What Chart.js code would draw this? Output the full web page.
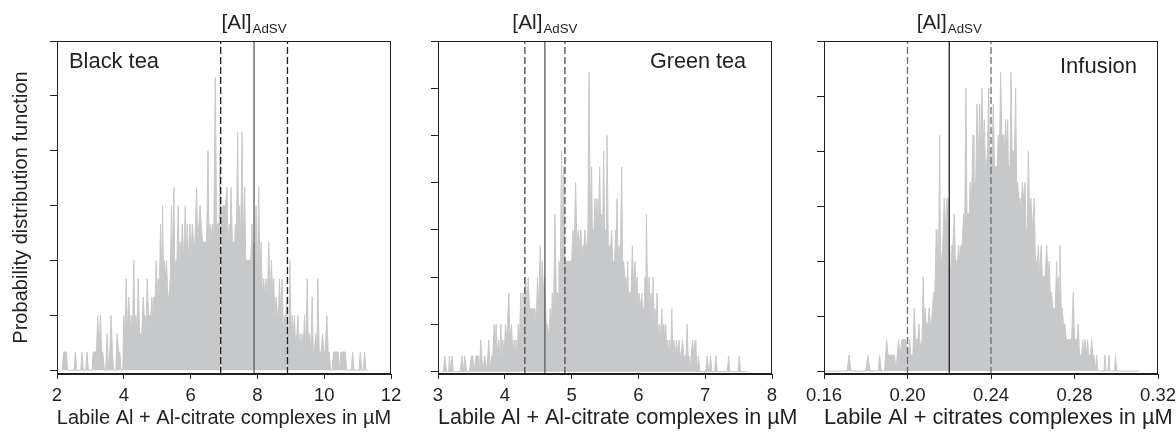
<!DOCTYPE html>
<html><head><meta charset="utf-8">
<script src="https://cdn.jsdelivr.net/npm/chart.js@4/dist/chart.umd.min.js"></script>
<style>
html,body{margin:0;padding:0;background:#fff;}
#wrap{position:relative;width:1176px;height:434px;overflow:hidden;background:#fff;}
canvas{position:absolute;left:0;top:0;}
</style></head><body>
<div id="wrap">
<canvas id="c1" width="1176" height="434"></canvas>
<canvas id="c2" width="1176" height="434"></canvas>
<canvas id="c3" width="1176" height="434"></canvas>
</div>
<script>
// ---------- DATA (x = concentration in µM, y = frequency) ----------
const blackTeaPDF = [
[2.15,0],[2.2,1],[2.28,1],[2.32,0],[2.51,0],[2.55,1],[2.59,0],[2.71,0],[2.75,1],[2.79,0],[2.86,0],[2.9,1],[2.94,0],[3.05,0],[3.08,1],[3.18,1],[3.22,3],[3.26,1],[3.3,3],[3.34,1],[3.37,1],[3.42,0],[3.46,0],[3.5,2],[3.54,0],[3.58,1],[3.62,3],[3.66,1],[3.7,0],[3.76,0],[3.8,2],[3.84,1],[3.88,1],[3.92,0],[3.97,0],
[4.0,3],[4.04,2],[4.07,5],[4.11,2],[4.15,4],[4.19,2],[4.22,3],[4.26,2],[4.3,6],[4.33,2],[4.36,3],[4.4,2],[4.43,5],[4.47,2],[4.5,2],[4.54,2],[4.58,4],[4.61,3],[4.64,3],[4.67,2],[4.7,5],[4.74,3],[4.78,3],[4.81,3],[4.84,4],[4.87,3],[4.9,4],[4.94,4],[4.97,6],
[5.0,4],[5.03,5],[5.06,4],[5.1,8],[5.13,5],[5.16,9],[5.19,5],[5.22,6],[5.25,5],[5.28,6],[5.32,4],[5.35,4],[5.39,5],[5.43,9],[5.46,6],[5.5,10],[5.53,5],[5.56,6],[5.59,6],[5.63,9],[5.66,6],[5.68,7],[5.72,6],[5.75,8],[5.79,6],[5.84,9],[5.87,6],[5.9,8],[5.94,6],[5.98,8],
[6.01,6],[6.05,8],[6.09,7],[6.13,7],[6.18,10],[6.21,7],[6.25,8],[6.28,9],[6.32,8],[6.36,7],[6.4,7],[6.44,7],[6.48,7],[6.52,12],[6.55,7],[6.58,8],[6.61,7],[6.65,8],[6.69,7],[6.74,16],[6.78,8],[6.82,8],[6.85,8],[6.88,12],[6.92,8],[6.96,9],
[7.0,9],[7.04,9],[7.09,10],[7.12,7],[7.16,8],[7.19,7],[7.21,10],[7.25,7],[7.29,7],[7.32,7],[7.34,8],[7.37,7],[7.41,13],[7.44,7],[7.47,9],[7.5,7],[7.54,13],[7.58,7],[7.62,10],[7.65,6],[7.69,6],[7.72,6],[7.76,6],[7.8,6],[7.84,8],[7.87,5],[7.9,7],[7.93,6],[7.96,9],
[8.0,5],[8.04,10],[8.08,5],[8.11,7],[8.15,4],[8.19,5],[8.22,4],[8.26,5],[8.3,4],[8.34,7],[8.38,4],[8.42,6],[8.46,4],[8.49,5],[8.52,3],[8.56,4],[8.6,3],[8.63,3],[8.66,5],[8.7,3],[8.74,5],[8.78,2],[8.82,3],[8.84,2],[8.87,4],[8.91,2],[8.94,2],[8.97,6],
[9.01,2],[9.04,3],[9.07,2],[9.11,3],[9.15,1],[9.18,2],[9.22,3],[9.25,1],[9.28,2],[9.31,1],[9.34,2],[9.37,1],[9.41,3],[9.45,1],[9.49,5],[9.53,1],[9.56,2],[9.6,1],[9.64,4],[9.67,1],[9.7,1],[9.72,1],[9.75,2],[9.78,1],[9.81,5],[9.85,1],[9.88,1],[9.91,1],[9.95,2],[9.99,1],
[10.03,1],[10.05,1],[10.08,3],[10.12,1],[10.15,1],[10.19,0],[10.24,0],[10.28,1],[10.42,1],[10.46,0],[10.5,1],[10.63,1],[10.67,0],[10.81,0],[10.85,1],[10.89,0],[11.04,0],[11.08,1],[11.12,0],[11.17,0],[11.21,1],[11.25,0],[11.3,0]
];
const greenTeaPDF = [
[3.05,0],[3.08,0],[3.1,1],[3.13,0],[3.16,0],[3.17,1],[3.19,0],[3.21,1],[3.23,0],[3.25,0],[3.33,0],[3.36,1],[3.38,0],[3.4,1],[3.43,0],[3.47,0],[3.5,1],[3.52,1],[3.54,0],[3.57,1],[3.6,1],[3.62,0],[3.64,2],[3.67,0],[3.7,1],[3.73,0],[3.76,2],[3.78,0],[3.8,1],[3.82,1],[3.84,3],[3.86,2],[3.87,3],[3.89,1],[3.91,2],[3.93,1],[3.94,3],[3.96,1],[3.97,2],[3.99,1],
[4.01,3],[4.03,2],[4.06,5],[4.08,2],[4.1,3],[4.12,1],[4.14,2],[4.16,1],[4.17,2],[4.19,1],[4.2,3],[4.22,2],[4.24,5],[4.26,3],[4.27,5],[4.29,3],[4.31,6],[4.33,4],[4.35,6],[4.37,4],[4.4,4],[4.42,4],[4.45,4],[4.47,3],[4.49,6],[4.51,4],[4.53,8],[4.545,5],[4.56,7],[4.58,5],[4.6,6],[4.62,3],[4.64,3],[4.66,2],[4.68,4],[4.7,3],[4.71,5],[4.73,4],[4.75,10],[4.77,5],[4.78,5],[4.8,5],[4.81,7],[4.83,6],[4.85,14],[4.865,8],[4.88,13],[4.9,7],[4.91,7],[4.93,7],[4.95,7],[4.97,7],[4.99,7],
[5.0,7],[5.02,9],[5.04,8],[5.06,12],[5.08,8],[5.1,9],[5.12,8],[5.14,9],[5.155,7],[5.17,8],[5.185,8],[5.2,9],[5.215,8],[5.23,8],[5.245,9],[5.26,19],[5.28,10],[5.3,13],[5.31,9],[5.32,9],[5.335,9],[5.35,11],[5.365,9],[5.38,11],[5.4,9],[5.42,13],[5.435,9],[5.45,10],[5.465,9],[5.48,14],[5.495,9],[5.51,9],[5.52,8],[5.53,15],[5.55,8],[5.57,8],[5.585,8],[5.6,9],[5.615,7],[5.63,7],[5.645,7],[5.66,9],[5.67,8],[5.68,11],[5.695,7],[5.71,8],[5.73,7],[5.75,13],[5.765,7],[5.78,7],[5.795,6],[5.81,6],[5.825,5],[5.84,7],[5.85,5],[5.86,5],[5.875,5],[5.89,5],[5.9,5],[5.91,8],[5.93,5],[5.95,7],[5.965,5],[5.98,6],[5.995,4],
[6.01,5],[6.03,4],[6.05,5],[6.06,4],[6.07,4],[6.085,4],[6.1,6],[6.11,4],[6.12,10],[6.14,4],[6.16,6],[6.175,4],[6.19,5],[6.205,3],[6.22,6],[6.235,3],[6.25,4],[6.265,3],[6.28,5],[6.295,2],[6.31,3],[6.33,2],[6.35,4],[6.365,2],[6.38,3],[6.395,2],[6.41,3],[6.425,1],[6.44,2],[6.455,1],[6.47,2],[6.485,1],[6.5,4],[6.515,1],[6.53,2],[6.55,1],[6.57,2],[6.59,1],[6.61,2],[6.625,1],[6.64,1],[6.65,1],[6.66,2],[6.68,1],[6.7,1],[6.715,1],[6.73,3],[6.745,1],[6.76,1],[6.775,0],[6.79,1],[6.8,1],[6.81,2],[6.83,1],[6.85,2],[6.86,1],[6.87,1],[6.885,0],[6.9,1],[6.92,0],
[7.01,0],[7.03,1],[7.05,0],[7.06,0],[7.08,1],[7.1,0],[7.14,0],[7.16,1],[7.18,0],[7.33,0],[7.35,1],[7.37,0],[7.49,0],[7.51,1],[7.53,0],[7.62,0]
];
const infusionPDF = [
[0.16,0],[0.171,0],[0.172,1],[0.173,0],[0.180,0],[0.181,1],[0.182,0],[0.186,0],[0.1866,1],[0.1875,0],[0.189,0],[0.190,2],[0.1907,1],[0.1914,1],[0.1938,1],[0.1945,0],[0.1957,2],[0.1965,1],[0.1973,2],[0.1978,2],[0.1984,2],[0.1992,2],[0.1997,1],[0.2003,1],
[0.201,2],[0.2016,1],[0.2021,1],[0.2026,1],[0.2032,4],[0.2038,2],[0.2045,2],[0.205,2],[0.2055,3],[0.206,1.5],[0.2064,1.5],[0.207,2],[0.2075,6],[0.208,3],[0.2085,4],[0.2089,3],[0.2093,3],[0.2098,3],[0.2104,4],[0.2109,3],[0.2114,3],[0.212,4],[0.2125,5],[0.2131,5],[0.2138,9],[0.2141,7],[0.2144,8],[0.2149,7],[0.2154,15],[0.2158,7],[0.2163,7],[0.2169,8],[0.2176,11],[0.2182,9],[0.2189,11],[0.2194,9],[0.2198,11],
[0.2203,7],[0.2207,6],[0.2213,8],[0.2218,8],[0.2224,10],[0.2229,7],[0.2234,7],[0.224,7],[0.2245,8],[0.225,7],[0.2256,8],[0.2262,8],[0.2269,10],[0.2274,9],[0.228,18],[0.2285,10],[0.2291,10],[0.2296,10],[0.230,12],[0.2307,11],[0.2314,15],[0.2318,12],[0.2322,12],[0.2327,12],[0.2333,17],[0.2339,13],[0.2346,17],[0.2351,13],[0.2357,18],[0.2362,14],[0.2368,16],[0.2373,13],[0.2378,13],[0.2383,14],[0.2389,18],[0.2393,14],[0.2397,14],
[0.2404,13],[0.2411,17],[0.2417,13],[0.2424,13],[0.2429,13],[0.2435,15],[0.2441,14],[0.2446,19],[0.2452,15],[0.2459,15],[0.2464,14],[0.247,16],[0.2475,14],[0.248,16],[0.2483,13],[0.2486,13],[0.2491,13],[0.2496,19],[0.2501,14],[0.2507,14],[0.2512,13],[0.2518,18],[0.2523,12],[0.2528,12],[0.2533,11],[0.2539,11],[0.2544,10],[0.255,12],[0.2556,11],[0.2563,12],[0.2568,9],[0.2574,9],[0.2576,9],[0.2579,14],[0.2585,10],[0.2591,11],[0.2599,9],
[0.2607,11],[0.2613,7],[0.2619,7],[0.2623,7],[0.2627,8],[0.2633,6],[0.264,8],[0.2646,6],[0.2651,6],[0.2659,6],[0.2667,8],[0.2673,6],[0.2679,7],[0.2684,5],[0.269,5],[0.2696,4],[0.2702,4],[0.2708,4],[0.2714,7],[0.2718,5],[0.2722,6],[0.2726,5],[0.273,8],[0.2736,4],[0.2741,4],[0.2747,3],[0.2754,3],[0.276,2],[0.2765,2],[0.2771,2],[0.2778,2],[0.2786,2],[0.2794,5],
[0.28,2],[0.2805,2],[0.2812,2],[0.2818,3],[0.2824,1],[0.2831,1],[0.2835,1],[0.2839,2],[0.2845,1],[0.285,2],[0.2857,1],[0.2863,2],[0.2868,1],[0.2874,1],[0.2877,1],[0.2882,2],[0.2888,1],[0.2893,1],[0.29,0],[0.2906,1],[0.2912,0],[0.2941,0],[0.2946,1],[0.2951,0],[0.296,0],[0.2965,1],[0.297,0],[0.2992,0],[0.2997,1],[0.3002,0],[0.311,0]
];
// [Al]AdSV reference lines: [lower (dashed), value (solid), upper (dashed)]
const blackTeaAdSV = [6.9, 7.9, 8.9];
const greenTeaAdSV = [4.3, 4.6, 4.9];
const infusionAdSV = [0.20, 0.22, 0.24];
// tick values / labels
const blackTeaXTicks = [2, 4, 6, 8, 10, 12];
const blackTeaXLabels = ['2', '4', '6', '8', '10', '12'];
const greenTeaXTicks = [3, 4, 5, 6, 7, 8];
const greenTeaXLabels = ['3', '4', '5', '6', '7', '8'];
const infusionXTicks = [0.16, 0.20, 0.24, 0.28, 0.32];
const infusionXLabels = ['0.16', '0.20', '0.24', '0.28', '0.32'];
const blackTeaYTicks = [0, 3, 6, 9, 12, 15, 18];
const greenTeaYTicks = [0, 3, 6, 9, 12, 15, 18, 21];
const infusionYTicks = [0, 3.5, 7, 10.5, 14, 17.5, 21];

// ---------- RENDERING ----------
const FONT = '"Liberation Sans", Arial, Helvetica, sans-serif';
const INK = '#231f20';
const GRAYFILL = '#c7c8ca';

// font size that makes a text span a given width (matches the reference's text extents)
const measureCtx = document.createElement('canvas').getContext('2d');
function fitSize(text, width) {
  measureCtx.font = '100px ' + FONT;
  return Math.round(100 * width / measureCtx.measureText(text).width * 10) / 10;
}

const deco = {
  id: 'deco',
  afterDraw(chart, args, o) {
    const {ctx, chartArea: a, scales} = chart;
    ctx.save();
    ctx.strokeStyle = INK; ctx.lineWidth = 1;
    ctx.strokeRect(Math.round(a.left) + 0.5, Math.round(a.top) + 0.5, Math.round(a.right - a.left) - 1, Math.round(a.bottom - a.top) - 1);
    ctx.fillStyle = INK;
    // panel label
    ctx.font = o.labelSize + 'px ' + FONT;
    ctx.textBaseline = 'middle';
    ctx.textAlign = o.labelAlign;
    const lx = o.labelAlign === 'left' ? a.left + o.labelDx : a.right - o.labelDx;
    ctx.fillText(o.label, lx, a.top + o.labelDy);
    // x-axis title (drawn without width compression)
    ctx.textBaseline = 'alphabetic';
    ctx.font = o.xTitleSize + 'px ' + FONT;
    if (o.xTitleAlign === 'center') { ctx.textAlign = 'center'; ctx.fillText(o.xTitle, (a.left + a.right) / 2, o.xTitleBase); }
    else { ctx.textAlign = 'left'; ctx.fillText(o.xTitle, a.left, o.xTitleBase); }
    // [Al]AdSV title centred on the solid line
    const cx = scales.x.getPixelForValue(o.titleAt);
    ctx.font = o.mainSize + 'px ' + FONT; const w1 = ctx.measureText(o.mainText).width;
    ctx.font = o.subSize + 'px ' + FONT; const w2 = ctx.measureText(o.subText).width;
    const sx = cx - (w1 + w2 + 1) / 2;
    ctx.textAlign = 'left';
    ctx.font = o.mainSize + 'px ' + FONT; ctx.fillText(o.mainText, sx, o.mainBase);
    ctx.font = o.subSize + 'px ' + FONT; ctx.fillText(o.subText, sx + w1 + 1, o.subBase);
    ctx.restore();
  }
};

function makePanel(id, p) {
  const vline = (v, dashed, color, w) => ({
    type: 'line',
    data: [{x: v, y: p.yMin}, {x: v, y: p.yMax}],
    borderColor: color, borderWidth: w, borderDash: dashed ? [7, 3] : [],
    pointRadius: 0, fill: false, order: 1
  });
  new Chart(document.getElementById(id), {
    type: 'line',
    data: {
      datasets: [
        vline(p.lines[0], true, p.dashColor, 1.3),
        vline(p.lines[1], false, p.solidColor, 1.3),
        vline(p.lines[2], true, p.dashColor, 1.3),
        {
          data: p.pdf.map(d => ({x: d[0], y: d[1]})),
          borderColor: GRAYFILL, backgroundColor: GRAYFILL, borderWidth: 1,
          pointRadius: 0, tension: 0, fill: 'origin', order: 2
        }
      ]
    },
    options: {
      responsive: false, animation: false, devicePixelRatio: 1,
      layout: {padding: {left: p.padLeft, right: p.padRight, top: 41, bottom: 0}},
      plugins: {
        legend: {display: false}, tooltip: {enabled: false}, title: {display: false},
        deco: {
          label: p.label, labelAlign: p.labelAlign, labelDx: p.labelDx, labelDy: p.labelDy,
          labelSize: fitSize(p.label, p.labelWidth),
          xTitle: p.xTitle, xTitleSize: fitSize(p.xTitle, p.xTitleWidth), xTitleAlign: p.xTitleAlign, xTitleBase: 424,
          titleAt: p.lines[1], mainText: '[Al]', subText: 'AdSV',
          mainSize: fitSize('[Al]', 30), subSize: fitSize('AdSV', 34), mainBase: 28.5, subBase: 32.5
        }
      },
      scales: {
        x: {
          type: 'linear', min: p.xTicks[0], max: p.xTicks[p.xTicks.length - 1],
          afterBuildTicks: s => { s.ticks = p.xTicks.map(v => ({value: v})); },
          afterFit: s => { s.height = 60; s.paddingLeft = 0; s.paddingRight = 0; },
          ticks: {
            callback: (v, i) => p.xLabels[i], autoSkip: false, maxRotation: 0,
            font: {family: FONT, size: 18.5}, color: INK, padding: 6
          },
          grid: {drawOnChartArea: false, drawTicks: true, tickLength: 5, color: INK, lineWidth: 1},
          border: {display: true, color: INK, width: 1},
          title: {display: false}
        },
        y: {
          type: 'linear', min: p.yMin, max: p.yMax,
          afterBuildTicks: s => { s.ticks = p.yTicks.map(v => ({value: v})); },
          afterFit: s => { s.width = p.yWidth; s.paddingTop = 0; s.paddingBottom = 0; },
          ticks: {display: false},
          grid: {drawOnChartArea: false, drawTicks: true, tickLength: 7, color: INK, lineWidth: 1},
          border: {display: true, color: INK, width: 1},
          title: {
            display: !!p.yTitle, text: p.yTitle || '', color: INK,
            font: {family: FONT, size: p.yTitle ? fitSize(p.yTitle, 273) : 12}, padding: {top: 9, bottom: 0}
          }
        }
      }
    },
    plugins: [deco]
  });
}

makePanel('c1', {
  pdf: blackTeaPDF, lines: blackTeaAdSV, xTicks: blackTeaXTicks, xLabels: blackTeaXLabels, yTicks: blackTeaYTicks,
  yMin: -0.2, yMax: 18, padLeft: 0, yWidth: 57, padRight: 785,
  dashColor: INK, solidColor: '#5a5b5d',
  label: 'Black tea', labelWidth: 90, labelAlign: 'left', labelDx: 12, labelDy: 21,
  xTitle: 'Labile Al + Al-citrate complexes in µM', xTitleWidth: 335, xTitleAlign: 'center',
  yTitle: 'Probability distribution function'
});
makePanel('c2', {
  pdf: greenTeaPDF, lines: greenTeaAdSV, xTicks: greenTeaXTicks, xLabels: greenTeaXLabels, yTicks: greenTeaYTicks,
  yMin: -0.15, yMax: 21, padLeft: 408, yWidth: 30, padRight: 404,
  dashColor: '#4d4d4f', solidColor: '#5a5b5d',
  label: 'Green tea', labelWidth: 96, labelAlign: 'right', labelDx: 26, labelDy: 21,
  xTitle: 'Labile Al + Al-citrate complexes in µM', xTitleWidth: 359, xTitleAlign: 'start'
});
makePanel('c3', {
  pdf: infusionPDF, lines: infusionAdSV, xTicks: infusionXTicks, xLabels: infusionXLabels, yTicks: infusionYTicks,
  yMin: -0.19, yMax: 21, padLeft: 794, yWidth: 30, padRight: 18,
  dashColor: '#6d6e71', solidColor: INK,
  label: 'Infusion', labelWidth: 77, labelAlign: 'right', labelDx: 21, labelDy: 26,
  xTitle: 'Labile Al + citrates complexes in µM', xTitleWidth: 349, xTitleAlign: 'start'
});
</script>
</body></html>
